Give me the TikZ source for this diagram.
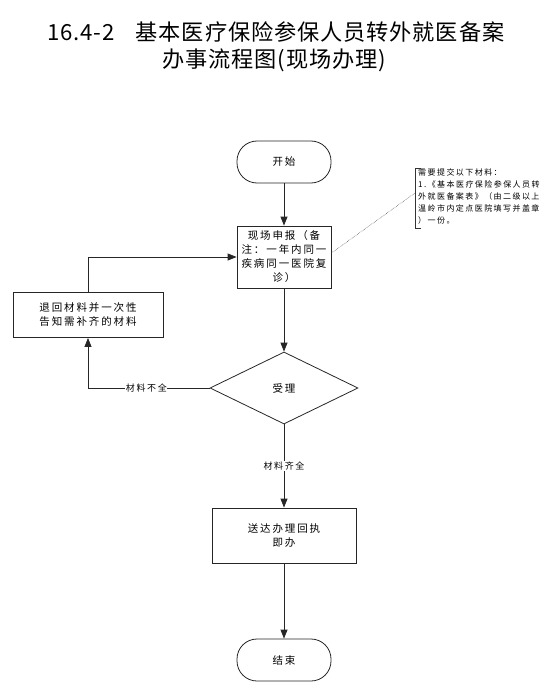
\documentclass[tikz,border=0pt]{standalone}
\usepackage{fontspec}
\setmainfont{Noto Sans CJK SC}
\newfontfamily\cjkt[LetterSpace=4]{Noto Sans CJK SC}
\newfontfamily\cjkb[LetterSpace=18]{Noto Sans CJK SC}
\usetikzlibrary{shapes.geometric,arrows.meta}
\begin{document}
\begin{tikzpicture}[x=1pt,y=-1pt,
  every node/.style={inner sep=0pt},
  ln/.style={line width=0.8pt, draw=black!85},
  arr/.style={ln, -{Triangle[length=9pt,width=7pt]}},
  termbox/.style={ln, rounded corners=20pt, minimum width=94pt, minimum height=42pt, font=\cjkb\fontsize{10.5}{14}\selectfont, align=center},
  procbox/.style={ln, minimum width=#1, font=\cjkb\fontsize{10.5}{14}\selectfont, align=center},
  decbox/.style={ln, diamond, minimum width=148pt, minimum height=72pt, font=\cjkb\fontsize{10.5}{14}\selectfont},
  lbl/.style={fill=white, inner sep=0.5pt, font=\cjkb\fontsize{9}{11}\selectfont}
]
\useasboundingbox (0,0) rectangle (555,698);
% title
\node[anchor=west, font=\cjkt\fontsize{22.2}{27}\selectfont] (t1) at (47,32) {16.4-2\hspace{21pt}基本医疗保险参保人员转外就医备案};
\node[anchor=west, font=\cjkt\fontsize{22.2}{27}\selectfont] (t2) at (162,60) {办事流程图(现场办理)};
% nodes
\node[termbox] (start) at (284,162) {开始};
\node[procbox=94pt, minimum height=62pt] (apply) at (284,257) {现场申报（备\\注：一年内同一\\疾病同一医院复\\诊）};
\node[procbox=150pt, minimum height=45pt] (ret) at (88,315) {退回材料并一次性\\告知需补齐的材料};
\node[decbox] (acc) at (284,388) {受理};
\node[procbox=144pt, minimum height=55pt] (send) at (284,535.5) {送达办理回执\\即办};
\node[termbox] (end) at (284,660) {结束};
% note
\node[anchor=north west, align=left, font=\cjkb\fontsize{8}{12}\selectfont] (note) at (418,168.5) {需要提交以下材料：\\1.《基本医疗保险参保人员转\\外就医备案表》（由二级以上\\温岭市内定点医院填写并盖章\\）一份。};
\coordinate (nb) at (415,193);
\draw[line width=0.6pt, black!80] (421,168) -- (415,168) -- (415,228) -- (421,228);
\draw[densely dotted, line width=0.5pt, black!80] (apply.east) ++(0,-4) -- (nb);
% connectors
\draw[arr] (start) -- (apply);
\draw[arr] (ret.north) |- (apply.west);
\draw[arr] (apply) -- (acc);
\draw[arr] (acc.west) -| node[lbl, pos=0.26] {材料不全} (ret.south);
\draw[arr] (acc) -- node[lbl, pos=0.5] {材料齐全} (send);
\draw[arr] (send) -- (end);
\end{tikzpicture}
\end{document}
